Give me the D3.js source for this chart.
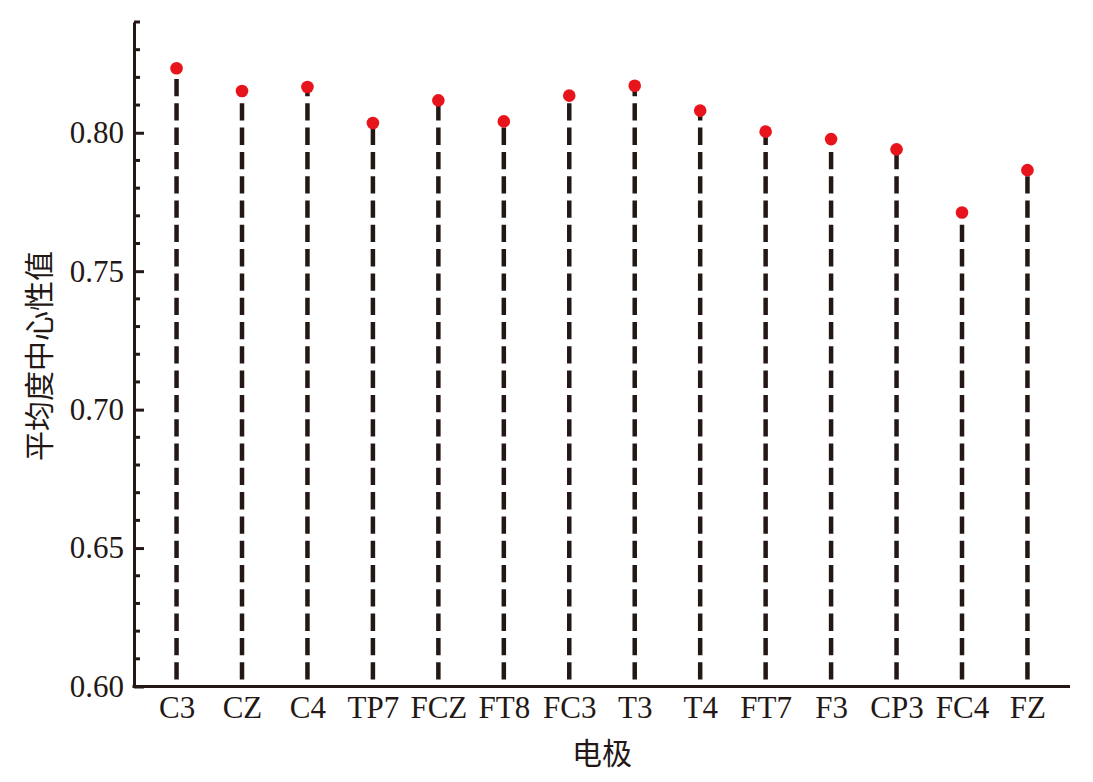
<!DOCTYPE html>
<html>
<head>
<meta charset="utf-8">
<script src="https://cdn.jsdelivr.net/npm/d3@7"></script>
<style>
  body { margin: 0; background: #fff; }
  svg { display: block; }
</style>
</head>
<body>
<div id="chart"></div>
<script>
// 电极名称与平均度中心性值
const electrodes = ['C3', 'CZ', 'C4', 'TP7', 'FCZ', 'FT8', 'FC3', 'T3', 'T4', 'FT7', 'F3', 'CP3', 'FC4', 'FZ'];
const centrality = [0.8233, 0.8151, 0.8165, 0.8035, 0.8117, 0.8041, 0.8134, 0.8170, 0.8080, 0.8004, 0.7977, 0.7940, 0.7712, 0.7865];
const yTicks = [0.60, 0.65, 0.70, 0.75, 0.80];

const width = 1093;
const height = 782;
const margin = { top: 22, right: 23, bottom: 95.5, left: 134 };

const ink = '#231815';
const dotColor = '#e8141b';
const serif = '"Liberation Serif", "Times New Roman", serif';
const cjk = '"Noto Sans CJK SC", sans-serif';

const data = electrodes.map((name, i) => ({ name, value: centrality[i] }));

const svg = d3.select('#chart').append('svg')
  .attr('width', width)
  .attr('height', height);

const x = d3.scalePoint()
  .domain(electrodes)
  .range([margin.left, width - margin.right])
  .padding(0.65);

const y = d3.scaleLinear()
  .domain([0.60, 0.84])
  .range([height - margin.bottom, margin.top]);

// 竖直虚线（从横轴往上画）
svg.append('g')
  .selectAll('line')
  .data(data)
  .join('line')
  .attr('x1', d => x(d.name))
  .attr('x2', d => x(d.name))
  .attr('y1', y(0.60))
  .attr('y2', d => y(d.value))
  .attr('stroke', ink)
  .attr('stroke-width', 4.5)
  .attr('stroke-dasharray', '17.3,7')
  .attr('stroke-dashoffset', 17.3);

// 次刻度
const minorTicks = d3.range(0, 25).map(i => +(0.60 + i * 0.01).toFixed(2))
  .filter(v => !yTicks.some(t => Math.abs(t - v) < 1e-9));

svg.append('g')
  .selectAll('line')
  .data(minorTicks)
  .join('line')
  .attr('x1', margin.left)
  .attr('x2', margin.left + 6)
  .attr('y1', d => y(d))
  .attr('y2', d => y(d))
  .attr('stroke', ink)
  .attr('stroke-width', 3);

// y轴
const yAxis = svg.append('g')
  .attr('transform', `translate(${margin.left},0)`)
  .call(d3.axisLeft(y).tickValues(yTicks).tickFormat(d3.format('.2f')).tickSizeInner(-10).tickSizeOuter(0).tickPadding(10));

yAxis.select('.domain').attr('stroke', ink).attr('stroke-width', 3);
yAxis.selectAll('.tick line').attr('stroke', ink).attr('stroke-width', 3);
yAxis.selectAll('.tick text')
  .attr('font-family', serif)
  .attr('font-size', 31)
  .attr('fill', ink);

// x轴
const xAxis = svg.append('g')
  .attr('transform', `translate(0,${y(0.60)})`)
  .call(d3.axisBottom(x).tickSize(0).tickPadding(9));

xAxis.select('.domain')
  .attr('d', `M${margin.left - 1.5},0H${width - margin.right}`)
  .attr('stroke', ink)
  .attr('stroke-width', 3);
xAxis.selectAll('.tick text')
  .attr('font-family', serif)
  .attr('font-size', 31)
  .attr('fill', ink);

// 红色圆点
svg.append('g')
  .selectAll('circle')
  .data(data)
  .join('circle')
  .attr('cx', d => x(d.name))
  .attr('cy', d => y(d.value))
  .attr('r', 6.3)
  .attr('fill', dotColor);

// 轴标题
svg.append('text')
  .attr('x', (margin.left + width - margin.right) / 2)
  .attr('y', 751)
  .attr('text-anchor', 'middle')
  .attr('dominant-baseline', 'central')
  .attr('font-family', cjk)
  .attr('font-size', 30)
  .attr('fill', ink)
  .text('电极');

svg.append('text')
  .attr('transform', 'translate(37,356) rotate(-90)')
  .attr('text-anchor', 'middle')
  .attr('dominant-baseline', 'central')
  .attr('font-family', cjk)
  .attr('font-size', 30)
  .attr('fill', ink)
  .text('平均度中心性值');
</script>
</body>
</html>
